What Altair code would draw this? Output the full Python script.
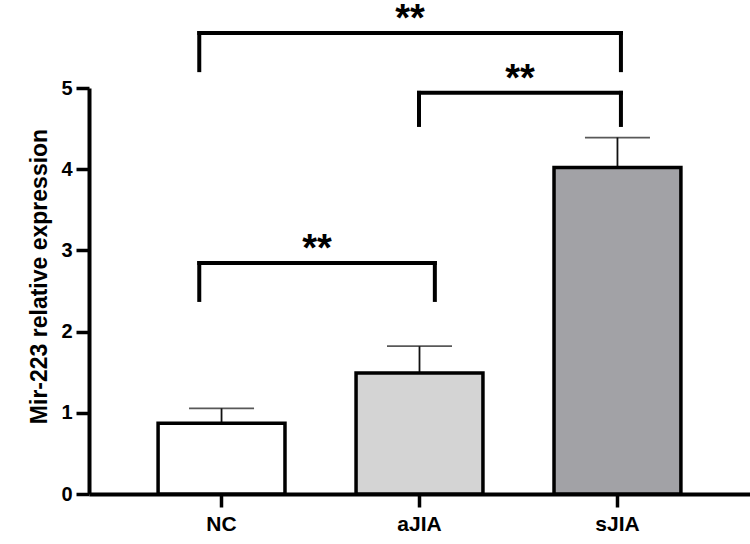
import altair as alt
import pandas as pd

# ---- data ----
groups = ["NC", "aJIA", "sJIA"]
means = [0.87, 1.49, 4.02]
errors = [0.185, 0.33, 0.37]
colors = ["#ffffff", "#d4d4d4", "#a2a2a6"]
y_ticks = [0, 1, 2, 3, 4, 5]
y_title = "Mir-223 relative expression"

# significance brackets (x in category-index units, 0 = NC centre)
b_x1 = [-0.11, 1.0, -0.11]
b_x2 = [1.08, 2.02, 2.02]
b_top = [2.845, 4.94, 5.677]
b_bottom = [2.39, 4.545, 5.22]
b_label = ["**", "**", "**"]

FONT = "Liberation Sans"

df = pd.DataFrame({"group": groups, "mean": means, "err": errors})
df["upper"] = df["mean"] + df["err"]

br = pd.DataFrame({"x1": b_x1, "x2": b_x2, "top": b_top, "bottom": b_bottom, "label": b_label})
br["mid"] = (br["x1"] + br["x2"]) / 2
br_sides = pd.concat([
    pd.DataFrame({"xs": br["x1"], "top": br["top"], "bottom": br["bottom"]}),
    pd.DataFrame({"xs": br["x2"], "top": br["top"], "bottom": br["bottom"]}),
], ignore_index=True)

yscale = alt.Scale(domain=[0, 5], nice=False, zero=True)
xband = alt.Scale(paddingInner=0.359, paddingOuter=0.349)

x_axis = alt.Axis(title=None, labelAngle=0)
y_axis = alt.Axis(title=y_title, values=y_ticks, grid=False)


def xb():
    return alt.X("group:N", sort=groups, scale=xband, axis=x_axis)


def yq(field):
    return alt.Y(field, scale=yscale, axis=y_axis, title=y_title)


bars = alt.Chart(df).mark_bar(stroke="black", strokeWidth=3.5).encode(
    x=xb(),
    y=yq("mean:Q"),
    fill=alt.Fill("group:N", scale=alt.Scale(domain=groups, range=colors), legend=None),
)

err_rule = alt.Chart(df).mark_rule(color="#111111", strokeWidth=1.8).encode(
    x=xb(),
    y=yq("mean:Q"),
    y2="upper:Q",
)
err_cap = alt.Chart(df).mark_tick(color="#111111", thickness=1.8, size=65).encode(
    x=xb(),
    y=yq("upper:Q"),
)

base = alt.layer(err_rule, err_cap, bars)

xq = alt.Scale(domain=[-0.667, 2.672], nice=False, zero=False)

b_h = alt.Chart(br).mark_rule(color="black", strokeWidth=4, strokeCap="square").encode(
    x=alt.X("x1:Q", scale=xq, axis=None),
    x2="x2:Q",
    y=yq("top:Q"),
)
b_v = alt.Chart(br_sides).mark_rule(color="black", strokeWidth=4, strokeCap="square").encode(
    x=alt.X("xs:Q", scale=xq, axis=None),
    y=yq("bottom:Q"),
    y2="top:Q",
)
b_t = alt.Chart(br).mark_text(font=FONT, fontSize=38, fontWeight="bold", color="black",
                              baseline="alphabetic", align="center", dy=-2).encode(
    x=alt.X("mid:Q", scale=xq, axis=None),
    y=yq("top:Q"),
    text="label:N",
)
brackets = alt.layer(b_h, b_v, b_t)

chart = alt.layer(base, brackets).resolve_scale(x="independent").properties(
    width=661, height=406,
    autosize=alt.AutoSizeParams(type="none"),
    padding={"left": 89, "top": 88, "right": 0, "bottom": 50},
    background="white",
).configure_view(
    stroke=None
).configure_axis(
    labelFont=FONT, labelFontWeight="bold", labelColor="black",
    titleFont=FONT, titleFontWeight="bold", titleColor="black",
    tickSize=13, tickWidth=3.5, tickColor="black",
    domainColor="black", domainWidth=4, grid=False,
).configure_axisX(
    labelFontSize=21, labelPadding=6,
).configure_axisY(
    labelFontSize=20, labelPadding=4, titleFontSize=23, titlePadding=9, titleY=188,
)

chart.save("out.html", embed_options={"renderer": "svg", "actions": False})
